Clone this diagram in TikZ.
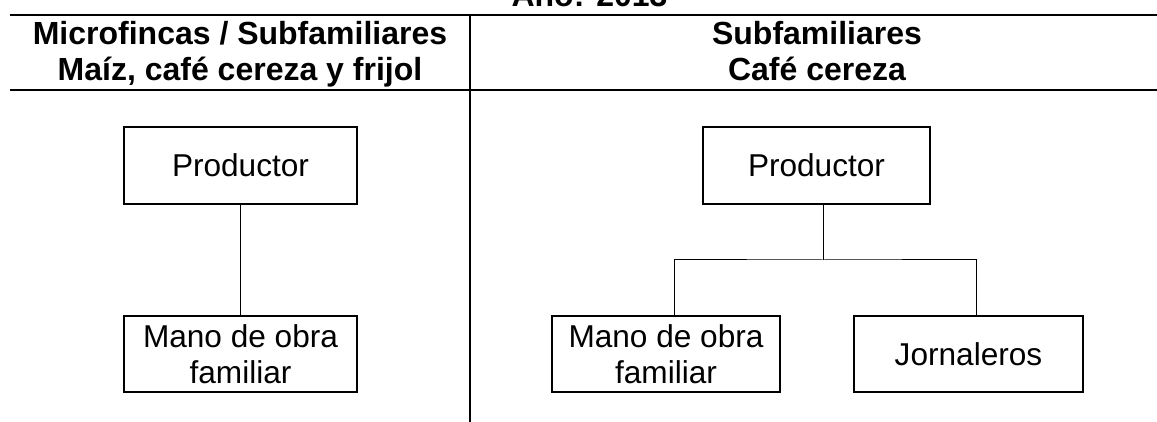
\documentclass[tikz,border=0pt]{standalone}
\usepackage{fontspec}
\setmainfont{Liberation Sans}
\usepackage{tikz}
\newlength\pxlen
\setlength\pxlen{0.5pt}
\tikzset{
  org/.style n args={2}{draw,line width=0.8pt,minimum width=#1\pxlen,minimum height=#2\pxlen,
    inner sep=0pt,align=center,font=\fontsize{15.8pt}{18pt}\selectfont},
  hdr/.style={inner sep=0pt,align=center,font=\fontsize{16pt}{18pt}\selectfont\bfseries},
  rule/.style={line width=1pt},
  link/.style={line width=0.5pt}
}
\begin{document}
\begin{tikzpicture}[x=1\pxlen,y=-1\pxlen]
\clip (0,0) rectangle (1157,422);
% title and table lines
\node[hdr,anchor=base] (t0) at (589.5,7) {Año: 2013};
\draw[rule] (10,15) -- (1157,15);
\draw[rule] (10,90) -- (1157,90);
\draw[line width=0.8pt] (470,15) -- (470,422);
\node[hdr] (h0) at (240,54.7) {Microfincas / Subfamiliares\\Maíz, café cereza y frijol};
\node[hdr] (h1) at (817,51.3) {Subfamiliares\\Café cereza};
% left chart
\node[org={233}{77}] (p0) at (240.5,165.5) {Productor};
\node[org={233}{76}] (m0) at (240.5,354) {Mano de obra\\familiar};
\draw[link] (p0) -- (m0);
% right chart
\node[org={227}{77}] (p1) at (816.5,165.5) {Productor};
\node[org={228}{76}] (m1) at (666,354) {Mano de obra\\familiar};
\node[org={229}{76}] (m2) at (968.5,354) {Jornaleros};
\coordinate (b1) at (823,260);
\draw[link] (b1 |- p1.south) -- (b1);
\draw[link] ([xshift=8\pxlen]m1.north) |- (b1) -| ([xshift=7.5\pxlen]m2.north);
\end{tikzpicture}
\end{document}
